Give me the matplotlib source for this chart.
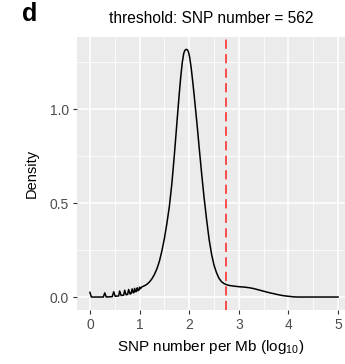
import matplotlib
matplotlib.use("Agg")
import matplotlib.pyplot as plt
from matplotlib.ticker import MultipleLocator
import numpy as np

plt.rcParams['font.family'] = ['Liberation Sans', 'DejaVu Sans']
plt.rcParams['mathtext.fontset'] = 'custom'
plt.rcParams['mathtext.rm'] = 'Liberation Sans'
plt.rcParams['mathtext.default'] = 'regular'

# density of log10(SNP count per Mb), read point by point
snp_log = [0.00, 0.03, 0.27, 0.30, 0.33, 0.45, 0.48, 0.51, 0.58, 0.60, 0.63,
           0.68, 0.70, 0.73, 0.76, 0.78, 0.81, 0.83, 0.85, 0.875, 0.89, 0.90,
           0.925, 0.94, 0.954, 0.97, 0.99, 1.00, 1.02, 1.04, 1.10, 1.15, 1.20,
           1.25, 1.30, 1.35, 1.40, 1.45, 1.50, 1.55, 1.60, 1.65, 1.70, 1.73,
           1.76, 1.80, 1.83, 1.86, 1.89, 1.91, 1.93, 1.95, 1.97, 1.99, 2.01,
           2.04, 2.07, 2.10, 2.13, 2.16, 2.20, 2.25, 2.30, 2.35, 2.40, 2.45,
           2.50, 2.55, 2.60, 2.65, 2.70, 2.75, 2.80, 2.90, 3.00, 3.10, 3.20,
           3.30, 3.40, 3.50, 3.60, 3.70, 3.80, 3.90, 4.00, 4.10, 4.20, 5.00]
density = [0.025, 0.0, 0.0, 0.022, 0.0, 0.002, 0.028, 0.004, 0.006, 0.032,
           0.008, 0.010, 0.036, 0.012, 0.014, 0.040, 0.016, 0.019, 0.043,
           0.022, 0.025, 0.046, 0.028, 0.031, 0.049, 0.034, 0.038, 0.052,
           0.044, 0.053, 0.060, 0.068, 0.080, 0.097, 0.120, 0.150, 0.190,
           0.245, 0.310, 0.390, 0.480, 0.600, 0.750, 0.850, 0.950, 1.080,
           1.170, 1.245, 1.295, 1.310, 1.316, 1.317, 1.313, 1.300, 1.275,
           1.220, 1.150, 1.075, 0.995, 0.915, 0.800, 0.660, 0.530, 0.415,
           0.310, 0.230, 0.170, 0.130, 0.100, 0.082, 0.072, 0.066, 0.062,
           0.058, 0.055, 0.053, 0.050, 0.045, 0.038, 0.031, 0.024, 0.018,
           0.012, 0.007, 0.004, 0.001, 0.0, 0.0]
threshold = np.log10(562)

fig = plt.figure(figsize=(3.45, 3.64), dpi=100)
ax = fig.add_axes([77 / 345, 1 - 310 / 364, (345 - 77) / 345, 273 / 364])
ax.set_facecolor('#EBEBEB')
for s in ax.spines.values():
    s.set_visible(False)

ax.plot(snp_log, density, color='black', lw=1.1, zorder=3)
ax.axvline(threshold, color='#FF2020', lw=1.1, dashes=(6, 3.5), zorder=4)

ax.set_xlim(-0.26, 5.14)
ax.set_ylim(-0.069, 1.383)
ax.set_xticks([0, 1, 2, 3, 4, 5])
ax.set_yticks([0.0, 0.5, 1.0])
ax.set_yticklabels(['0.0', '0.5', '1.0'])
ax.xaxis.set_minor_locator(MultipleLocator(0.5))
ax.yaxis.set_minor_locator(MultipleLocator(0.25))
ax.grid(which='major', color='white', lw=1.1, zorder=0)
ax.grid(which='minor', color='white', lw=0.55, zorder=0)
ax.set_axisbelow(True)
ax.tick_params(which='major', length=3, width=0.8, color='#333333',
               labelcolor='#4D4D4D', labelsize=10, pad=3)
ax.tick_params(which='minor', length=0)

ax.set_xlabel('SNP number per Mb (log$_{10}$)', fontsize=11, labelpad=4)
ax.set_ylabel('Density', fontsize=10.5, labelpad=8)
ax.set_title('threshold: SNP number = 562', fontsize=11.2, pad=10)
fig.text(0.065, 0.995, 'd', fontsize=18, fontweight='bold', va='top')

fig.savefig('out.png', dpi=100)
